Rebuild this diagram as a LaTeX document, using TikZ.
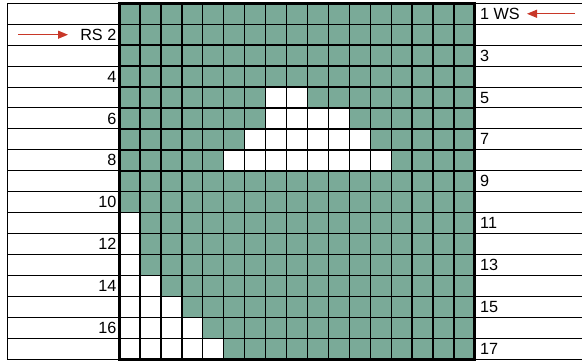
\documentclass[tikz,border=0pt]{standalone}
\usepackage{fontspec}
\setmainfont{Liberation Sans}
\usetikzlibrary{arrows.meta}
\definecolor{cellgreen}{RGB}{122,170,152}
\definecolor{arrowred}{RGB}{200,55,40}
\begin{document}
\begin{tikzpicture}[x=1pt,y=-1pt,
  gridline/.style={line width=1.4pt,black},
  sideline/.style={line width=1pt,black},
  outline/.style={line width=3pt,black},
  lbl/.style={inner sep=0pt,font=\fontsize{16.2}{18}\selectfont},
  redarrow/.style={arrowred,line width=1.2pt,-{Triangle[length=10pt,width=8pt]}}]
\useasboundingbox (0,0) rectangle (582,361);
\def\X{119}\def\Y{3.3}\def\S{20.94}
% green field
\fill[cellgreen] (\X,\Y) rectangle ({\X+17*\S},{\Y+17*\S});
% white cells (col/row)
\foreach \c/\r in {7/5,8/5,
  7/6,8/6,9/6,10/6,
  6/7,7/7,8/7,9/7,10/7,11/7,
  5/8,6/8,7/8,8/8,9/8,10/8,11/8,12/8,
  0/11,0/12,0/13,0/14,1/14,0/15,1/15,2/15,
  0/16,1/16,2/16,3/16,0/17,1/17,2/17,3/17,4/17}
  \fill[white] ({\X+\c*\S},{\Y+(\r-1)*\S}) rectangle ++(\S,\S);
% grid lines
\foreach \i in {1,...,16} {
  \draw[gridline] ({\X+\i*\S},\Y) -- ++(0,{17*\S});
  \draw[gridline] (\X,{\Y+\i*\S}) -- ++({17*\S},0);
}
% side panels
\foreach \i in {0,...,17} {
  \draw[sideline] (7,{\Y+\i*\S}) -- (\X,{\Y+\i*\S});
  \draw[sideline] ({\X+17*\S},{\Y+\i*\S}) -- (582,{\Y+\i*\S});
}
\draw[sideline] (7,\Y) -- (7,{\Y+17*\S});
% outline
\draw[outline] (\X,\Y) rectangle ({\X+17*\S},{\Y+17*\S});
% labels
\node[lbl,anchor=east] (l2) at (116.5,{\Y+1.5*\S}) {RS 2};
\foreach \r in {4,6,...,16}
  \node[lbl,anchor=east] (l\r) at (116.5,{\Y+(\r-0.5)*\S}) {\r};
\node[lbl,anchor=west] (r1) at (480,{\Y+0.5*\S}) {1 WS};
\foreach \r in {3,5,...,17}
  \node[lbl,anchor=west] (r\r) at (480,{\Y+(\r-0.5)*\S}) {\r};
% arrows
\coordinate (as) at (18,{\Y+1.5*\S});
\coordinate (ae) at (68,{\Y+1.5*\S});
\draw[redarrow] (as) -- (ae);
\coordinate (bs) at (575,{\Y+0.5*\S});
\coordinate (be) at (527,{\Y+0.5*\S});
\draw[redarrow] (bs) -- (be);
\end{tikzpicture}
\end{document}
